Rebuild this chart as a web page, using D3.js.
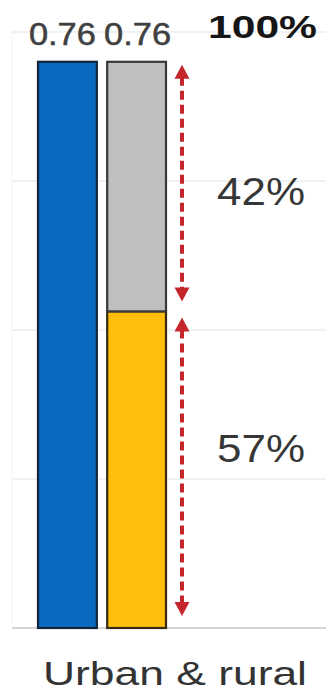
<!DOCTYPE html>
<html><head><meta charset="utf-8">
<script src="https://cdn.jsdelivr.net/npm/d3@7"></script>
<style>html,body{margin:0;padding:0;background:#fff;}svg{display:block;}</style>
</head><body>
<svg id="c" width="326" height="697"></svg>
<script>
const categories = ["Total", "Split"];
const totalValues = [0.76, 0.76];
const lowerValues = [0.76, 0.425];   // blue total, yellow part
const upperValues = [0, 0.335];      // gray part on top of yellow
const valueLabels = ["0.76", "0.76"];
const shareLabels = ["100%", "42%", "57%"];
const gridTicks = [0, 0.2, 0.4, 0.6, 0.8];
const xLabel = "Urban & rural";

const svg = d3.select("#c");
const y = d3.scaleLinear().domain([0, 0.8]).range([628, 32]);
const x = d3.scaleBand().domain(categories).range([38, 166]).paddingInner(0.15).paddingOuter(0);
const fam = "Liberation Sans, Arial, sans-serif";

// grid
svg.append("g").selectAll("line").data(gridTicks).join("line")
  .attr("x1", 12).attr("x2", 326)
  .attr("y1", d => y(d)).attr("y2", d => y(d))
  .attr("stroke", d => d === 0 ? "#d6d6d6" : "#ececec").attr("stroke-width", d => d === 0 ? 2 : 1.5);
svg.append("line").attr("x1", 12).attr("x2", 12).attr("y1", y(0.8)).attr("y2", y(0))
  .attr("stroke", "#f3f3f3").attr("stroke-width", 1);

// blue bar
svg.append("rect")
  .attr("x", x(categories[0])).attr("width", x.bandwidth())
  .attr("y", y(lowerValues[0])).attr("height", y(0) - y(lowerValues[0]))
  .attr("fill", "#0a6abf").attr("stroke", "#10243a").attr("stroke-width", 2.2);
// yellow
svg.append("rect")
  .attr("x", x(categories[1])).attr("width", x.bandwidth())
  .attr("y", y(lowerValues[1])).attr("height", y(0) - y(lowerValues[1]))
  .attr("fill", "#fdbe0e").attr("stroke", "#3b2a12").attr("stroke-width", 2.2);
// gray
svg.append("rect")
  .attr("x", x(categories[1])).attr("width", x.bandwidth())
  .attr("y", y(lowerValues[1] + upperValues[1])).attr("height", y(lowerValues[1]) - y(lowerValues[1] + upperValues[1]))
  .attr("fill", "#bfbfbf").attr("stroke", "#383838").attr("stroke-width", 2.2);

// value labels
svg.append("g").selectAll("text").data(categories).join("text")
  .attr("x", (d, i) => x(d) + x.bandwidth() / 2 + (i === 0 ? -5 : 1))
  .attr("y", 45)
  .attr("text-anchor", "middle")
  .attr("font-family", fam)
  .attr("font-size", 31)
  .attr("fill", "#404040")
  .attr("stroke", "#404040").attr("stroke-width", 0.5)
  .attr("textLength", 67).attr("lengthAdjust", "spacingAndGlyphs")
  .text((d, i) => valueLabels[i]);

// arrows
const red = "#c4262c";
const ax = 182;
function arrow(yTop, yBot) {
  const g = svg.append("g");
  g.append("line").attr("x1", ax).attr("x2", ax).attr("y1", yTop + 12).attr("y2", yBot - 12)
    .attr("stroke", red).attr("stroke-width", 4).attr("stroke-dasharray", "9,5");
  g.append("path").attr("d", `M${ax},${yTop} L${ax - 7.5},${yTop + 14} L${ax + 7.5},${yTop + 14} Z`).attr("fill", red);
  g.append("path").attr("d", `M${ax},${yBot} L${ax - 7.5},${yBot - 14} L${ax + 7.5},${yBot - 14} Z`).attr("fill", red);
}
arrow(y(totalValues[1]) + 3, y(lowerValues[1]) - 10);
arrow(y(lowerValues[1]) + 6, y(0) - 12);

// share labels
svg.append("text").attr("x", 208).attr("y", 38).attr("font-family", fam).attr("font-weight", "bold")
  .attr("font-size", 32).attr("fill", "#161616")
  .attr("textLength", 109).attr("lengthAdjust", "spacingAndGlyphs").text(shareLabels[0]);
svg.append("text").attr("x", 217).attr("y", 205).attr("font-family", fam)
  .attr("font-size", 39).attr("fill", "#363636")
  .attr("textLength", 88).attr("lengthAdjust", "spacingAndGlyphs").text(shareLabels[1]);
svg.append("text").attr("x", 217).attr("y", 462).attr("font-family", fam)
  .attr("font-size", 39).attr("fill", "#363636")
  .attr("textLength", 88).attr("lengthAdjust", "spacingAndGlyphs").text(shareLabels[2]);

// x label
svg.append("text").attr("x", 43).attr("y", 685).attr("font-family", fam)
  .attr("font-size", 34).attr("fill", "#333")
  .attr("textLength", 264).attr("lengthAdjust", "spacingAndGlyphs").text(xLabel);
</script>
</body></html>
